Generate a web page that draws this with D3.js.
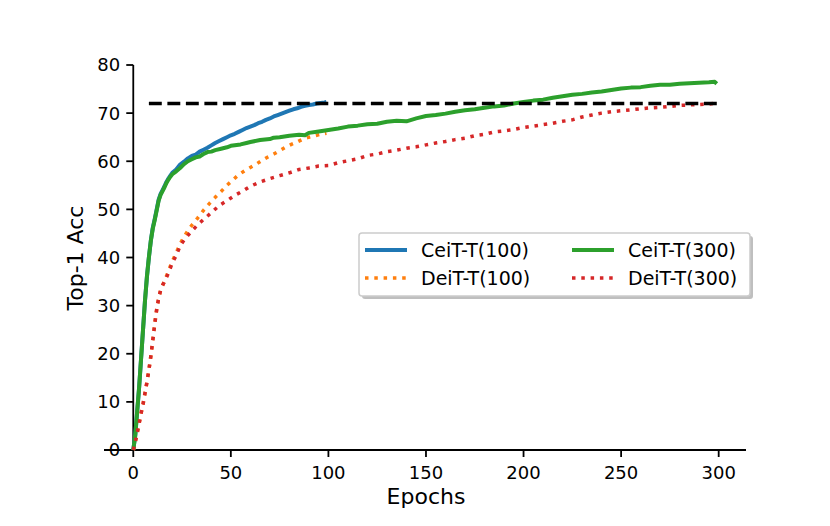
<!DOCTYPE html>
<html>
<head>
<meta charset="utf-8">
<script src="https://cdn.jsdelivr.net/npm/d3@7"></script>
<style>
  body { margin: 0; background: #fff; }
  svg text { font-family: "DejaVu Sans", sans-serif; fill: #000; }
</style>
</head>
<body>
<svg id="chart" width="830" height="526"></svg>
<script>
// values
var ceit100Epochs = [0,1,2,3,4,5,6,7,8,9,10,11,12,13,14,15,16,17,18,19,20,22,24,26,28,30,32,34,36,38,40,42,44,46,48,50,52,54,56,58,60,62,64,66,68,70,72,74,76,78,80,82,84,86,88,90,92,94,96,98,99]
var ceit100Acc = [0,3,8,13,19,25,31,36,40,43.5,46.2,48,50,52,53.2,54,54.8,55.7,56.4,57,57.6,58.3,59.3,59.9,60.6,61.1,61.4,62,62.4,62.8,63.3,63.8,64.2,64.6,65,65.4,65.7,66.1,66.5,66.9,67.2,67.5,67.9,68.2,68.6,68.9,69.3,69.6,69.9,70.2,70.5,70.8,71,71.3,71.5,71.7,71.8,72,72.1,72.2,72.3]

var deit100Epochs = [0,1,2,3,4,5,6,7,8,9,10,11,12,13,14,15,16,17,18,19,20,22,24,26,28,30,33,36,39,42,45,48,51,54,57,60,63,66,69,72,75,78,81,84,87,90,93,96,99]
var deit100Acc = [0,1.6,3.5,5.5,7.6,9.5,11.8,14.1,16.6,19.5,22.8,26.2,29.2,31.5,33.2,34.2,35.1,36.1,37.2,38.2,39.2,41,42.8,44.3,45.6,46.7,48.2,49.8,51.2,52.5,53.7,55,56.1,57.2,58,58.7,59.4,60.2,60.9,61.5,62.2,62.9,63.5,64,64.6,65,65.3,65.6,65.8]

var ceit300Epochs = [0,1,2,3,4,5,6,7,8,9,10,11,12,13,14,15,16,17,18,19,20,22,24,26,28,30,32,34,36,38,40,42,45,48,50,55,58,60,65,70,72,75,80,85,88,90,95,100,105,110,115,120,125,130,135,140,145,150,155,160,165,170,175,180,185,190,195,200,205,210,215,220,225,230,235,240,245,250,255,260,265,270,275,280,285,290,295,298,299]
var ceit300Acc = [0,3,8,13,19,25,31,36,40,43.5,46,47.8,49.8,51.8,53,53.8,54.6,55.5,56.2,56.8,57.3,57.9,58.6,59.4,60,60.4,60.8,61,61.5,61.9,62,62.3,62.6,62.9,63.2,63.5,63.8,64,64.4,64.6,64.9,65,65.3,65.5,65.4,65.9,66.2,66.5,66.8,67.2,67.4,67.7,67.8,68.2,68.4,68.3,68.9,69.4,69.6,69.9,70.3,70.6,70.8,71.1,71.4,71.6,72,72.3,72.6,72.8,73.2,73.5,73.8,74,74.3,74.5,74.8,75.1,75.3,75.4,75.7,75.9,75.9,76.1,76.2,76.3,76.4,76.5,76.1]

var deit300Epochs = [0,1,2,3,4,5,6,7,8,9,10,11,12,13,14,15,16,17,18,19,20,22,24,26,28,30,33,36,40,44,48,52,56,60,65,70,75,80,85,90,95,100,105,110,115,120,125,130,135,140,145,150,155,160,165,170,175,180,185,190,195,200,205,210,215,220,225,230,235,240,245,250,255,260,265,270,275,280,285,290,295,299]
var deit300Acc = [0,1.6,3.5,5.5,7.6,9.5,11.8,14.1,16.6,19.5,22.8,26.2,29.2,31.5,33.2,34.2,35,35.8,36.8,37.8,38.9,40.4,42.4,43.6,44.6,45.5,46.8,47.9,49.3,50.8,51.8,52.9,53.8,54.8,55.7,56.4,57,57.6,58.3,58.6,59,59.1,59.7,60.1,60.5,61.2,61.5,62,62.3,62.7,63,63.4,63.8,64.1,64.5,64.8,65.3,65.6,66.1,66.3,66.6,67,67.3,67.6,67.9,68.3,68.6,69.2,69.6,70,70.3,70.5,70.7,70.9,71.1,71.2,71.4,71.6,71.7,71.8,71.9,72.1]

var seriesNames = ['CeiT-T(100)', 'DeiT-T(100)', 'CeiT-T(300)', 'DeiT-T(300)']
var refStart = 8, refEnd = 300, refAcc = 72

var xTicks = [0, 50, 100, 150, 200, 250, 300]
var yTicks = [0, 10, 20, 30, 40, 50, 60, 70, 80]

var series = [
    { name: seriesNames[0], x: ceit100Epochs, y: ceit100Acc, color: '#1f77b4', dash: null, width: 4 },
    { name: seriesNames[1], x: deit100Epochs, y: deit100Acc, color: '#ff7f0e', dash: '3.5,5.8', width: 3.5 },
    { name: seriesNames[2], x: ceit300Epochs, y: ceit300Acc, color: '#2ca02c', dash: null, width: 4 },
    { name: seriesNames[3], x: deit300Epochs, y: deit300Acc, color: '#d62728', dash: '3.5,5.8', width: 3.5 }
]

var svg = d3.select('#chart')

var xScale = d3.scaleLinear().domain([-15, 314]).range([104, 746])
var yScale = d3.scaleLinear().domain([0, 80]).range([450, 65])

// spines (left one sits at x = 0, bottom one at y = 0)
svg.append('line')
    .attr('x1', xScale(0)).attr('x2', xScale(0))
    .attr('y1', yScale(0) + 1).attr('y2', yScale(80))
    .attr('stroke', '#000').attr('stroke-width', 1.8)
svg.append('line')
    .attr('x1', xScale(-15)).attr('x2', xScale(314))
    .attr('y1', yScale(0)).attr('y2', yScale(0))
    .attr('stroke', '#000').attr('stroke-width', 1.8)

// x ticks
xTicks.forEach(function (t) {
    svg.append('line')
        .attr('x1', xScale(t)).attr('x2', xScale(t))
        .attr('y1', yScale(0)).attr('y2', yScale(0) + 7)
        .attr('stroke', '#000').attr('stroke-width', 1.8)
    svg.append('text')
        .attr('x', xScale(t)).attr('y', 479)
        .attr('text-anchor', 'middle')
        .style('font-size', '18px')
        .text(t)
})

// y ticks
yTicks.forEach(function (t) {
    svg.append('line')
        .attr('x1', xScale(0) - 7).attr('x2', xScale(0))
        .attr('y1', yScale(t)).attr('y2', yScale(t))
        .attr('stroke', '#000').attr('stroke-width', 1.8)
    svg.append('text')
        .attr('x', xScale(0) - 13).attr('y', yScale(t))
        .attr('dy', '0.36em')
        .attr('text-anchor', 'end')
        .style('font-size', '18px')
        .text(t)
})

// axis labels
svg.append('text')
    .attr('x', 426).attr('y', 504)
    .attr('text-anchor', 'middle')
    .style('font-size', '22px')
    .text('Epochs')
svg.append('text')
    .attr('transform', 'translate(83, 258) rotate(-90)')
    .attr('text-anchor', 'middle')
    .style('font-size', '22px')
    .text('Top-1 Acc')

var line = d3.line()
    .x(function (d) { return xScale(d[0]) })
    .y(function (d) { return yScale(d[1]) })

series.forEach(function (s) {
    var pts = s.x.map(function (e, i) { return [e, s.y[i]] })
    svg.append('path')
        .attr('d', line(pts))
        .attr('fill', 'none')
        .attr('stroke', s.color)
        .attr('stroke-width', s.width)
        .attr('stroke-linejoin', 'round')
        .attr('stroke-dasharray', s.dash)
})

// reference line
svg.append('line')
    .attr('x1', xScale(refStart)).attr('x2', xScale(refEnd))
    .attr('y1', yScale(refAcc)).attr('y2', yScale(refAcc))
    .attr('stroke', '#000').attr('stroke-width', 3.5)
    .attr('stroke-dasharray', '12.9,5.6')

// legend
var legend = svg.append('g')
legend.append('rect')
    .attr('x', 362).attr('y', 236).attr('width', 391).attr('height', 63)
    .attr('rx', 3).attr('fill', '#7f7f7f').attr('opacity', 0.5)
legend.append('rect')
    .attr('x', 359).attr('y', 233).attr('width', 391).attr('height', 63)
    .attr('rx', 3).attr('fill', '#fff').attr('stroke', '#cccccc').attr('stroke-width', 1.5)

var legendPos = [[365, 250], [365, 278], [572, 250], [572, 278]]
series.forEach(function (s, i) {
    var p = legendPos[i]
    legend.append('line')
        .attr('x1', p[0]).attr('x2', p[0] + 42)
        .attr('y1', p[1]).attr('y2', p[1])
        .attr('stroke', s.color).attr('stroke-width', s.width)
        .attr('stroke-dasharray', s.dash)
    legend.append('text')
        .attr('x', p[0] + 56).attr('y', p[1])
        .attr('dy', '0.36em')
        .style('font-size', '19px')
        .text(s.name)
})
</script>
</body>
</html>
